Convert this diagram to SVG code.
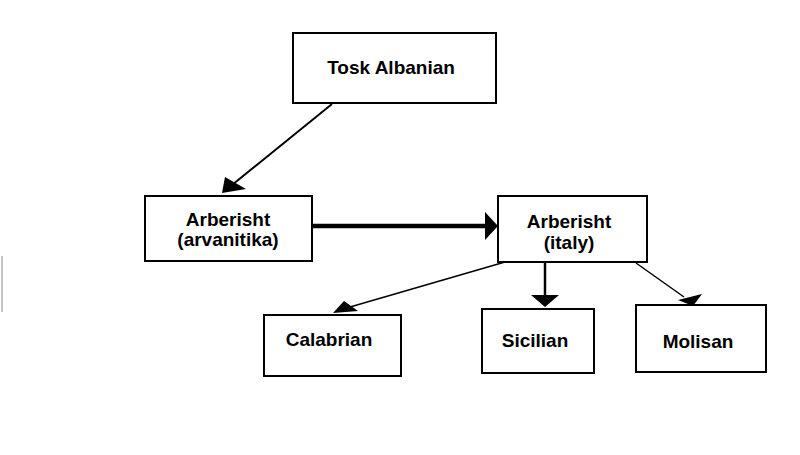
<svg xmlns="http://www.w3.org/2000/svg" width="800" height="455" viewBox="0 0 800 455">
<style>
.box{fill:#fff;stroke:#000;stroke-width:2}
.t{font-family:"Liberation Sans",Arial,sans-serif;font-weight:bold;font-size:19px;fill:#000;text-anchor:middle}
.c{stroke:#000;fill:none}
.h{fill:#000;stroke:none}
</style>
<rect width="800" height="455" fill="#fff"/>
<line x1="2" y1="256" x2="2" y2="312" stroke="#b0b0b0" stroke-width="1.5"/>
<g id="connectors">
<line class="c" x1="332" y1="104" x2="232" y2="185" stroke-width="2"/>
<polygon class="h" points="222,193 225,177 246,189"/>
<line class="c" x1="312" y1="226" x2="486" y2="226" stroke-width="4.5"/>
<polygon class="h" points="498,226 485,212 485,240"/>
<line class="c" x1="505" y1="262" x2="350" y2="307" stroke-width="1.5"/>
<polygon class="h" points="333,313 344,301 358,311"/>
<line class="c" x1="545" y1="262" x2="545" y2="296" stroke-width="2.5"/>
<polygon class="h" points="545,307 531,295 559,295"/>
<line class="c" x1="636" y1="263" x2="684" y2="297" stroke-width="1.5"/>
<polygon class="h" points="678,300 702,294 693,306"/>
</g>
<g id="tosk"><rect class="box" x="293" y="33" width="203" height="70"/><text class="t" x="391" y="74">Tosk Albanian</text></g>
<g id="arvanitika"><rect class="box" x="145" y="196" width="167" height="65"/><text class="t" x="228" y="226">Arberisht</text><text class="t" x="228" y="246">(arvanitika)</text></g>
<g id="italy"><rect class="box" x="498" y="196" width="149" height="66"/><text class="t" x="569" y="228">Arberisht</text><text class="t" x="569" y="249">(italy)</text></g>
<g id="calabrian"><rect class="box" x="264" y="315" width="137" height="61"/><text class="t" x="329" y="346">Calabrian</text></g>
<g id="sicilian"><rect class="box" x="482" y="309" width="112" height="64"/><text class="t" x="535" y="347">Sicilian</text></g>
<g id="molisan"><rect class="box" x="636" y="305" width="130" height="67"/><text class="t" x="698" y="348">Molisan</text></g>
</svg>
